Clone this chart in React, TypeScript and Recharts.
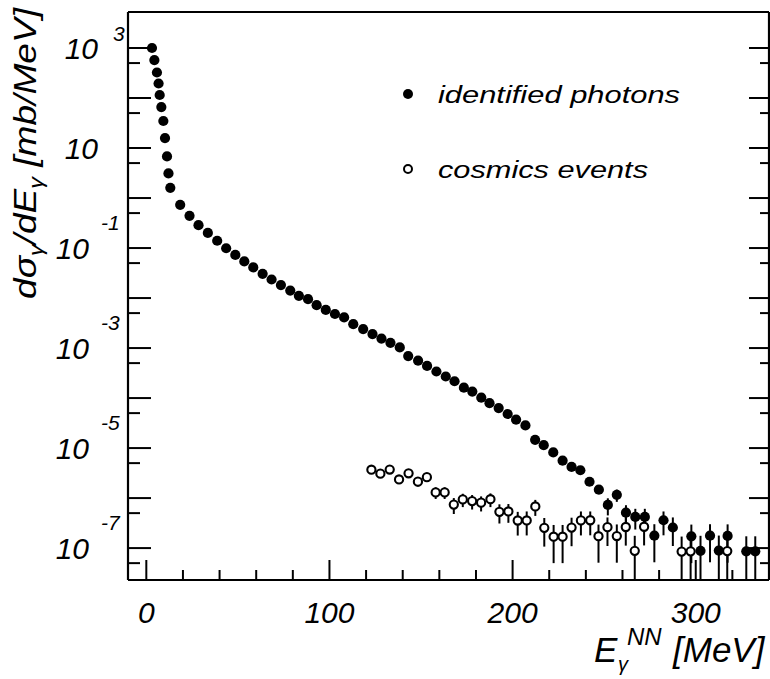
import { ErrorBar, Scatter, ScatterChart, XAxis, YAxis } from "recharts";

const FONT = '"Liberation Sans", Arial, Helvetica, sans-serif';
const Y_MIN = 2.3e-8;
const Y_MAX = 5.25e3;

// identified photons: energy [MeV], dσ/dE [mb/MeV]
const photonEnergy = [
  3.1, 4.4, 5.8, 6.7, 7.3, 8.2, 9.3, 10.2, 11.3, 12.1, 13.1,
  18.5, 23.6, 28.5, 33.6, 38.7, 43.6, 48.6, 53.5, 58.4, 63.5, 68.4, 73.5, 78.6, 83.3, 88.3,
  93.0, 98.0, 103.0, 108.0, 113.0, 118.4, 123.5, 128.4, 133.3, 138.4, 143.0, 148.4, 153.3, 158.4,
  163.5, 168.3, 173.4, 178.0, 182.9, 187.4, 192.4, 197.3, 201.9, 207.0, 212.3,
  217.0, 222.2, 227.3, 232.2, 237.0, 242.0, 247.1, 252.0, 256.9, 261.9, 267.0, 272.2, 277.4, 282.4, 287.5,
  297.6, 302.6, 307.8, 312.6, 317.4, 327.6, 332.5,
];
const photonSigma = [
  1000, 575, 324, 195, 115, 66, 34.7, 15.8, 6.8, 3.1, 1.6,
  0.73, 0.44, 0.286, 0.201, 0.14, 0.099, 0.073, 0.054, 0.041, 0.0305, 0.0235, 0.0182, 0.0141, 0.0111, 0.0095,
  0.0072, 0.0058, 0.0048, 0.0041, 0.003, 0.0024, 0.0019, 0.00155, 0.00127, 0.00103, 6.9e-4, 5.6e-4, 4.4e-4, 3.4e-4,
  2.7e-4, 2.17e-4, 1.61e-4, 1.35e-4, 1.02e-4, 7.9e-5, 6.3e-5, 4.8e-5, 3.7e-5, 2.84e-5, 1.46e-5,
  1.14e-5, 8.2e-6, 5.6e-6, 4.2e-6, 3.6e-6, 2.12e-6, 1.47e-6, 7.3e-7, 1.16e-6, 5.1e-7, 4.2e-7, 4.2e-7, 1.77e-7, 3.6e-7, 2.58e-7,
  1.72e-7, 8.8e-8, 1.77e-7, 8.9e-8, 1.75e-7, 8.6e-8, 8.6e-8,
];
// error bars only on the tail (from 252 MeV on); lower/upper bounds
const PHOTON_ERR_FROM = 58;
const photonErrLow = [4.5e-7, 8.4e-7, 3.0e-7, 2.35e-7, 2.35e-7, 5.2e-8, 1.8e-7, 1.1e-7, 5.0e-8, 0, 5.2e-8, 0, 5.1e-8, 0, 0];
const photonErrHigh = [9.9e-7, 1.48e-6, 7.2e-7, 6.1e-7, 6.1e-7, 3.0e-7, 5.4e-7, 4.1e-7, 2.95e-7, 1.76e-7, 3.0e-7, 1.78e-7, 2.98e-7, 1.72e-7, 1.72e-7];

// cosmics events
const cosmicEnergy = [
  122.9, 127.8, 132.9, 138.0, 143.2, 148.3, 153.2, 158.0, 162.9, 167.9, 172.8, 177.9, 182.8, 187.9, 192.8, 197.7,
  202.8, 207.7, 212.4, 217.3, 222.4, 227.3, 232.2, 237.3, 242.4, 246.9, 251.8, 256.9, 261.8, 266.7, 271.8,
  292.3, 297.2, 317.2,
];
const cosmicSigma = [
  3.69e-6, 3.08e-6, 3.72e-6, 2.36e-6, 3.13e-6, 2.13e-6, 2.62e-6, 1.3e-6, 1.3e-6, 7.4e-7, 9.4e-7, 8.7e-7, 8.1e-7, 9.5e-7, 5.3e-7, 5.4e-7,
  3.56e-7, 3.57e-7, 6.8e-7, 2.54e-7, 1.69e-7, 1.69e-7, 2.57e-7, 3.58e-7, 3.6e-7, 1.73e-7, 2.62e-7, 1.74e-7, 2.64e-7, 8.8e-8, 2.67e-7,
  8.5e-8, 8.6e-8, 8.7e-8,
];
const cosmicErrLow = [
  3.12e-6, 2.56e-6, 3.15e-6, 1.91e-6, 2.61e-6, 1.7e-6, 2.14e-6, 9.6e-7, 9.6e-7, 4.8e-7, 6.6e-7, 5.9e-7, 5.4e-7, 6.6e-7, 3.1e-7, 3.2e-7,
  1.78e-7, 1.79e-7, 4.4e-7, 1.07e-7, 5.0e-8, 5.0e-8, 1.09e-7, 1.79e-7, 1.8e-7, 5.1e-8, 1.1e-7, 5.1e-8, 1.12e-7, 0, 1.13e-7,
  0, 0, 0,
];
const cosmicErrHigh = [
  4.26e-6, 3.6e-6, 4.29e-6, 2.81e-6, 3.65e-6, 2.56e-6, 3.1e-6, 1.64e-6, 1.64e-6, 1.0e-6, 1.22e-6, 1.15e-6, 1.08e-6, 1.24e-6, 7.5e-7, 7.6e-7,
  5.3e-7, 5.4e-7, 9.2e-7, 4.0e-7, 2.9e-7, 2.9e-7, 4.05e-7, 5.4e-7, 5.4e-7, 2.95e-7, 4.1e-7, 2.97e-7, 4.15e-7, 1.76e-7, 4.2e-7,
  1.7e-7, 1.72e-7, 1.74e-7,
];

const xMajorTicks = [0, 100, 200, 300];
const xMinorTicks = [20, 40, 60, 80, 120, 140, 160, 180, 220, 240, 260, 280, 320];
const yDecadeTicks = [1e3, 1e2, 1e1, 1, 1e-1, 1e-2, 1e-3, 1e-4, 1e-5, 1e-6, 1e-7];
const yHalfTicks = [5e2, 5e1, 5, 0.5, 5e-2, 5e-3, 5e-4, 5e-5, 5e-6, 5e-7, 5e-8];
const yLabelValues = [1e3, 1e1, 1e-1, 1e-3, 1e-5, 1e-7];
const yLabelExponents = ["3", "", "-1", "-3", "-5", "-7"];

const xTicks = [...xMajorTicks, ...xMinorTicks].sort((a, b) => a - b);
const yTicks = [...yDecadeTicks, ...yHalfTicks].sort((a, b) => b - a);

const errPair = (v: number, lo: number, hi: number) => [v - Math.max(lo, Y_MIN), hi - v];

const photons = photonEnergy.map((e, i) => {
  const k = i - PHOTON_ERR_FROM;
  return {
    e,
    s: photonSigma[i],
    err: k >= 0 ? errPair(photonSigma[i], photonErrLow[k], photonErrHigh[k]) : null,
  };
});

const cosmics = cosmicEnergy.map((e, i) => ({
  e,
  s: cosmicSigma[i],
  err: errPair(cosmicSigma[i], cosmicErrLow[i], cosmicErrHigh[i]),
}));

type TickProps = { x?: number; y?: number; payload?: { value: number } };

function BottomTick({ x = 0, y = 0, payload }: TickProps) {
  const v = payload?.value ?? 0;
  const major = xMajorTicks.includes(v);
  return (
    <g>
      <line x1={x} x2={x} y1={y} y2={y - (major ? 20 : 10)} stroke="#000" strokeWidth={2} />
      {major && (
        <text x={x} y={y + 43} textAnchor="middle" fontSize={30} fontStyle="italic" fontFamily={FONT} fill="#000">
          {v}
        </text>
      )}
    </g>
  );
}

function TopTick({ x = 0, y = 0, payload }: TickProps) {
  const major = xMajorTicks.includes(payload?.value ?? -1);
  return <line x1={x} x2={x} y1={y} y2={y + (major ? 23 : 12)} stroke="#000" strokeWidth={2} />;
}

function LeftTick({ x = 0, y = 0, payload }: TickProps) {
  const v = payload?.value ?? 0;
  const decade = yDecadeTicks.includes(v);
  const li = yLabelValues.indexOf(v);
  const exp = li >= 0 ? yLabelExponents[li] : "";
  const neg = exp.startsWith("-");
  return (
    <g>
      <line x1={x} x2={x + (decade ? 23 : 12)} y1={y} y2={y} stroke="#000" strokeWidth={2} />
      {li >= 0 && (
        <text x={x - (neg ? 39 : 30)} y={y + 11} textAnchor="end" fontSize={30} fontStyle="italic" fontFamily={FONT} fill="#000">
          10
        </text>
      )}
      {exp && (
        <text x={x - (neg ? 27 : 15)} y={y - (neg ? 18 : 7)} fontSize={21} fontStyle="italic" fontFamily={FONT} fill="#000">
          {exp}
        </text>
      )}
    </g>
  );
}

function RightTick({ x = 0, y = 0, payload }: TickProps) {
  const decade = yDecadeTicks.includes(payload?.value ?? -1);
  return <line x1={x} x2={x - (decade ? 20 : 9)} y1={y} y2={y} stroke="#000" strokeWidth={2} />;
}

function FilledDot({ cx, cy }: { cx?: number; cy?: number }) {
  if (cx == null || cy == null) return <g />;
  return <circle cx={cx} cy={cy} r={5.1} fill="#000" />;
}

function OpenDot({ cx, cy }: { cx?: number; cy?: number }) {
  if (cx == null || cy == null) return <g />;
  return <circle cx={cx} cy={cy} r={4.1} fill="#fff" stroke="#000" strokeWidth={2.1} />;
}

const axisLine = { stroke: "#000", strokeWidth: 2.2 };

export default function App() {
  return (
    <div style={{ position: "absolute", left: 0, top: 0, width: 770, height: 679, background: "#fff" }}>
      <ScatterChart width={770} height={679} margin={{ top: 0, right: 0, bottom: 0, left: 0 }}>
        <XAxis
          xAxisId="bottom"
          dataKey="e"
          type="number"
          domain={[-10, 340]}
          allowDataOverflow
          ticks={xTicks}
          interval={0}
          height={99}
          tickSize={0}
          tickMargin={0}
          tickLine={false}
          axisLine={axisLine}
          tick={(p: TickProps) => <BottomTick {...p} />}
        />
        <XAxis
          xAxisId="top"
          orientation="top"
          type="number"
          domain={[-10, 340]}
          allowDataOverflow
          ticks={xTicks}
          interval={0}
          height={12}
          tickSize={0}
          tickMargin={0}
          tickLine={false}
          axisLine={axisLine}
          tick={(p: TickProps) => <TopTick {...p} />}
        />
        <YAxis
          yAxisId="left"
          dataKey="s"
          type="number"
          scale="log"
          domain={[Y_MIN, Y_MAX]}
          allowDataOverflow
          ticks={yTicks}
          interval={0}
          width={128}
          tickSize={0}
          tickMargin={0}
          tickLine={false}
          axisLine={axisLine}
          tick={(p: TickProps) => <LeftTick {...p} />}
        />
        <YAxis
          yAxisId="right"
          orientation="right"
          type="number"
          scale="log"
          domain={[Y_MIN, Y_MAX]}
          allowDataOverflow
          ticks={yTicks}
          interval={0}
          width={1}
          tickSize={0}
          tickMargin={0}
          tickLine={false}
          axisLine={axisLine}
          tick={(p: TickProps) => <RightTick {...p} />}
        />
        <Scatter
          name="cosmics events"
          data={cosmics}
          xAxisId="bottom"
          yAxisId="left"
          shape={OpenDot}
          isAnimationActive={false}
        >
          <ErrorBar dataKey="err" direction="y" width={0} stroke="#000" strokeWidth={2} isAnimationActive={false} />
        </Scatter>
        <Scatter
          name="identified photons"
          data={photons}
          xAxisId="bottom"
          yAxisId="left"
          shape={FilledDot}
          isAnimationActive={false}
        >
          <ErrorBar dataKey="err" direction="y" width={0} stroke="#000" strokeWidth={2} isAnimationActive={false} />
        </Scatter>
      </ScatterChart>

      <svg
        width={770}
        height={679}
        style={{ position: "absolute", left: 0, top: 0, pointerEvents: "none" }}
        fontFamily={FONT}
        fontStyle="italic"
        fill="#000"
      >
        <circle cx={408} cy={94} r={5} fill="#000" />
        <text x={438} y={103} fontSize={23.5} textLength={242} lengthAdjust="spacingAndGlyphs">
          identified photons
        </text>
        <circle cx={408} cy={169} r={4} fill="#fff" stroke="#000" strokeWidth={2} />
        <text x={438} y={178} fontSize={23.5} textLength={210} lengthAdjust="spacingAndGlyphs">
          cosmics events
        </text>

        <text transform="translate(36,299) rotate(-90)" fontSize={32} textLength={291} lengthAdjust="spacingAndGlyphs">
          dσ<tspan dy={7} fontSize={20}>γ</tspan>
          <tspan dy={-7}>/dE</tspan>
          <tspan dy={7} fontSize={20}>γ</tspan>
          <tspan dy={-7}> [mb/MeV]</tspan>
        </text>

        <text x={594} y={662} fontSize={35}>E</text>
        <text x={618} y={671} fontSize={20}>γ</text>
        <text x={627} y={645} fontSize={24}>NN</text>
        <text x={673} y={662} fontSize={35}>[MeV]</text>
      </svg>
    </div>
  );
}
